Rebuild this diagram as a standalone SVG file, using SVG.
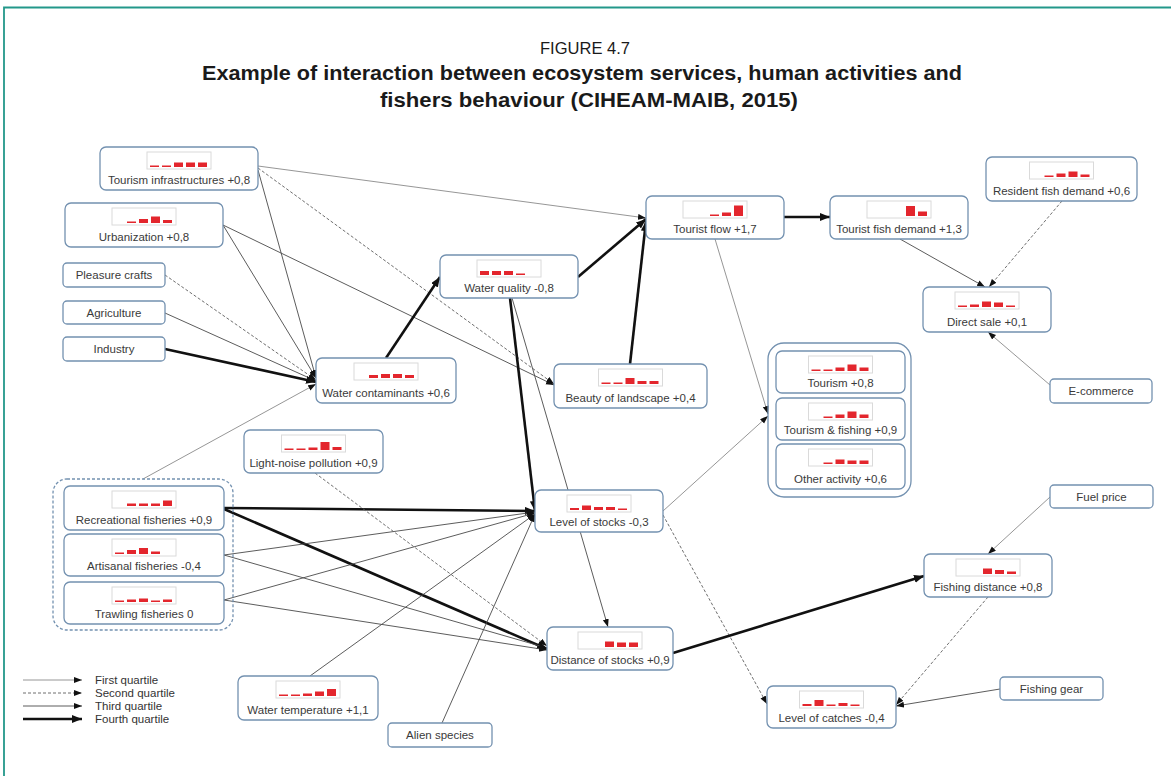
<svg xmlns="http://www.w3.org/2000/svg" width="1171" height="776" viewBox="0 0 1171 776">
  <style>
    .frame { fill: none; stroke: #23988a; stroke-width: 1.8; }
    .title { font-family: "Liberation Sans", Arial, sans-serif; fill: #1a1a1a; text-anchor: middle; }
    .node rect.box { fill: #ffffff; stroke: #7391b0; stroke-width: 1.3; }
    .grp { fill: none; stroke: #7391b0; stroke-width: 1.3; }
    .grp.dash { stroke-dasharray: 3 2; }
    .lbl { font-family: "Liberation Sans", Arial, sans-serif; font-size: 11.5px; fill: #3a3a3a; text-anchor: middle; }
    .chart { fill: none; stroke: #dadada; stroke-width: 1; }
    .bar { fill: #e3262d; }
    .q1 { fill: none; stroke: #8a8a8a; stroke-width: 0.9; marker-end: url(#arr); }
    .q2 { fill: none; stroke: #5e5e5e; stroke-width: 0.9; stroke-dasharray: 3 2; marker-end: url(#arr); }
    .q3 { fill: none; stroke: #4a4a4a; stroke-width: 0.9; marker-end: url(#arr); }
    .q4 { fill: none; stroke: #111111; stroke-width: 2.6; marker-end: url(#arrb); }
    .leg { font-family: "Liberation Sans", Arial, sans-serif; font-size: 11.5px; fill: #333333; }
  </style>
  <defs>
    <marker id="arr" markerUnits="userSpaceOnUse" markerWidth="9" markerHeight="7" refX="8" refY="3" orient="auto">
      <path d="M0,0 L8,3 L0,6 z" fill="#111"/>
    </marker>
    <marker id="arrb" markerUnits="userSpaceOnUse" markerWidth="12" markerHeight="10" refX="10" refY="4" orient="auto">
      <path d="M0,0 L10,4 L0,8 z" fill="#111"/>
    </marker>
  </defs>

  <rect width="1171" height="776" fill="#ffffff"/>
  <path class="frame" d="M4,776 V7.5 H1171"/>

  <!-- heading -->
  <text class="title" x="585" y="54" font-size="17" textLength="90" lengthAdjust="spacingAndGlyphs">FIGURE 4.7</text>
  <text class="title" x="582" y="80" font-size="20" font-weight="bold" textLength="760" lengthAdjust="spacingAndGlyphs">Example of interaction between ecosystem services, human activities and</text>
  <text class="title" x="589" y="107" font-size="20" font-weight="bold" textLength="418" lengthAdjust="spacingAndGlyphs">fishers behaviour (CIHEAM-MAIB, 2015)</text>

  <!-- connectors -->
  <g id="connectors">
    <line class="q1" x1="258" y1="166" x2="646" y2="218"/>
    <line class="q2" x1="258" y1="168" x2="554" y2="384"/>
    <line class="q3" x1="258" y1="170" x2="316" y2="378"/>
    <line class="q3" x1="223" y1="225" x2="316" y2="378"/>
    <line class="q3" x1="223" y1="225" x2="554" y2="385"/>
    <line class="q2" x1="165" y1="275" x2="316" y2="380"/>
    <line class="q3" x1="165" y1="313" x2="316" y2="381"/>
    <line class="q4" x1="165" y1="349" x2="316" y2="382"/>
    <line class="q1" x1="143" y1="479" x2="316" y2="384"/>
    <line class="q4" x1="386" y1="358" x2="440" y2="277"/>
    <line class="q4" x1="578" y1="277" x2="646" y2="219"/>
    <line class="q4" x1="630" y1="364" x2="646" y2="221"/>
    <line class="q4" x1="510" y1="298" x2="535" y2="511"/>
    <line class="q3" x1="512" y1="298" x2="608" y2="627"/>
    <line class="q1" x1="715" y1="239" x2="768" y2="414"/>
    <line class="q1" x1="663" y1="511" x2="768" y2="416"/>
    <line class="q2" x1="663" y1="515" x2="767" y2="704"/>
    <line class="q4" x1="784" y1="217" x2="830" y2="217"/>
    <line class="q3" x1="900" y1="239" x2="985" y2="287"/>
    <line class="q2" x1="1062" y1="201" x2="989" y2="287"/>
    <line class="q1" x1="1050" y1="385" x2="988" y2="332"/>
    <line class="q1" x1="1050" y1="497" x2="988" y2="554"/>
    <line class="q4" x1="673" y1="653" x2="924" y2="576"/>
    <line class="q2" x1="988" y1="597" x2="896" y2="705"/>
    <line class="q3" x1="1000" y1="689" x2="896" y2="706"/>
    <line class="q4" x1="224" y1="508" x2="535" y2="511"/>
    <line class="q4" x1="224" y1="509" x2="547" y2="649"/>
    <line class="q3" x1="224" y1="555" x2="535" y2="512"/>
    <line class="q3" x1="224" y1="555" x2="547" y2="648"/>
    <line class="q3" x1="224" y1="600" x2="535" y2="513"/>
    <line class="q3" x1="224" y1="600" x2="547" y2="650"/>
    <line class="q2" x1="315" y1="473" x2="547" y2="646"/>
    <line class="q3" x1="310" y1="676" x2="535" y2="514"/>
    <line class="q3" x1="442" y1="723" x2="535" y2="514"/>
  </g>

  <!-- group outlines -->
  <g id="group-fisheries"><rect class="grp dash" x="53" y="479" width="180" height="151" rx="14"/></g>
  <g id="group-activities"><rect class="grp" x="768" y="343" width="143" height="154" rx="16"/></g>

  <!-- nodes -->
  <g id="n-tourism-infra" class="node">
    <rect class="box" x="100" y="147" width="158" height="43" rx="6"/>
    <rect class="chart" x="147" y="152" width="64" height="17"/>
    <rect class="bar" x="150" y="165.5" width="9" height="1.5"/><rect class="bar" x="162" y="165.5" width="9" height="1.5"/><rect class="bar" x="174" y="162.5" width="9" height="4.5"/><rect class="bar" x="186" y="162.5" width="9" height="4.5"/><rect class="bar" x="198" y="162.5" width="9" height="4.5"/>
    <text class="lbl" x="179" y="184">Tourism infrastructures +0,8</text>
  </g>
  <g id="n-urbanization" class="node">
    <rect class="box" x="65" y="203" width="158" height="44" rx="6"/>
    <rect class="chart" x="112" y="208" width="64" height="17"/>
    <rect class="bar" x="127" y="221.5" width="9" height="1.5"/><rect class="bar" x="139" y="219" width="9" height="4"/><rect class="bar" x="151" y="216.5" width="9" height="6.5"/><rect class="bar" x="163" y="220" width="9" height="3"/>
    <text class="lbl" x="144" y="241">Urbanization +0,8</text>
  </g>
  <g id="n-pleasure-crafts" class="node">
    <rect class="box" x="63" y="263" width="102" height="24" rx="4"/>
    <text class="lbl" x="114" y="279">Pleasure crafts</text>
  </g>
  <g id="n-agriculture" class="node">
    <rect class="box" x="63" y="301" width="102" height="23" rx="4"/>
    <text class="lbl" x="114" y="317">Agriculture</text>
  </g>
  <g id="n-industry" class="node">
    <rect class="box" x="63" y="337" width="102" height="24" rx="4"/>
    <text class="lbl" x="114" y="353">Industry</text>
  </g>
  <g id="n-water-contaminants" class="node">
    <rect class="box" x="316" y="358" width="140" height="45" rx="6"/>
    <rect class="chart" x="354" y="363" width="64" height="17"/>
    <rect class="bar" x="369" y="375" width="9" height="3"/><rect class="bar" x="381" y="374" width="9" height="4"/><rect class="bar" x="393" y="374" width="9" height="4"/><rect class="bar" x="405" y="375" width="9" height="3"/>
    <text class="lbl" x="386" y="397">Water contaminants +0,6</text>
  </g>
  <g id="n-light-noise" class="node">
    <rect class="box" x="244" y="430" width="139" height="43" rx="6"/>
    <rect class="chart" x="281.5" y="435" width="64" height="17"/>
    <rect class="bar" x="284.5" y="448.5" width="9" height="1.5"/><rect class="bar" x="296.5" y="448.5" width="9" height="1.5"/><rect class="bar" x="308.5" y="447.5" width="9" height="2.5"/><rect class="bar" x="320.5" y="442" width="9" height="8"/><rect class="bar" x="332.5" y="447" width="9" height="3"/>
    <text class="lbl" x="313.5" y="467">Light-noise pollution +0,9</text>
  </g>
  <g id="n-water-quality" class="node">
    <rect class="box" x="440" y="255" width="138" height="43" rx="6"/>
    <rect class="chart" x="477" y="260" width="64" height="17"/>
    <rect class="bar" x="480" y="271" width="9" height="4"/><rect class="bar" x="492" y="271" width="9" height="4"/><rect class="bar" x="504" y="271" width="9" height="4"/><rect class="bar" x="516" y="273.5" width="9" height="1.5"/>
    <text class="lbl" x="509" y="292">Water quality -0,8</text>
  </g>
  <g id="n-beauty-landscape" class="node">
    <rect class="box" x="554" y="364" width="153" height="44" rx="6"/>
    <rect class="chart" x="598.5" y="369" width="64" height="17"/>
    <rect class="bar" x="601.5" y="382.5" width="9" height="1.5"/><rect class="bar" x="613.5" y="382.5" width="9" height="1.5"/><rect class="bar" x="625.5" y="378" width="9" height="6"/><rect class="bar" x="637.5" y="381" width="9" height="3"/><rect class="bar" x="649.5" y="381" width="9" height="3"/>
    <text class="lbl" x="630.5" y="402">Beauty of landscape +0,4</text>
  </g>
  <g id="n-tourist-flow" class="node">
    <rect class="box" x="646" y="196" width="138" height="43" rx="6"/>
    <rect class="chart" x="683" y="201" width="64" height="17"/>
    <rect class="bar" x="710" y="214.5" width="9" height="1.5"/><rect class="bar" x="722" y="212.5" width="9" height="3.5"/><rect class="bar" x="734" y="205.5" width="9" height="10.5"/>
    <text class="lbl" x="715" y="233">Tourist flow +1,7</text>
  </g>
  <g id="n-tourist-fish-demand" class="node">
    <rect class="box" x="830" y="196" width="138" height="43" rx="6"/>
    <rect class="chart" x="867" y="201" width="64" height="17"/>
    <rect class="bar" x="906" y="206" width="9" height="10"/><rect class="bar" x="918" y="211.5" width="9" height="4.5"/>
    <text class="lbl" x="899" y="233">Tourist fish demand +1,3</text>
  </g>
  <g id="n-resident-fish-demand" class="node">
    <rect class="box" x="986" y="157" width="151" height="44" rx="6"/>
    <rect class="chart" x="1029.5" y="162" width="64" height="17"/>
    <rect class="bar" x="1044.5" y="175.5" width="9" height="1.5"/><rect class="bar" x="1056.5" y="173.5" width="9" height="3.5"/><rect class="bar" x="1068.5" y="171.5" width="9" height="5.5"/><rect class="bar" x="1080.5" y="174.5" width="9" height="2.5"/>
    <text class="lbl" x="1061.5" y="195">Resident fish demand +0,6</text>
  </g>
  <g id="n-direct-sale" class="node">
    <rect class="box" x="923" y="287" width="128" height="45" rx="6"/>
    <rect class="chart" x="955" y="292" width="64" height="17"/>
    <rect class="bar" x="958" y="305.5" width="9" height="1.5"/><rect class="bar" x="970" y="304.5" width="9" height="2.5"/><rect class="bar" x="982" y="301.5" width="9" height="5.5"/><rect class="bar" x="994" y="302.5" width="9" height="4.5"/><rect class="bar" x="1006" y="305.5" width="9" height="1.5"/>
    <text class="lbl" x="987" y="326">Direct sale +0,1</text>
  </g>
  <g id="n-ecommerce" class="node">
    <rect class="box" x="1050" y="379" width="102" height="24" rx="4"/>
    <text class="lbl" x="1101" y="395">E-commerce</text>
  </g>
  <g id="n-tourism" class="node">
    <rect class="box" x="776" y="351" width="129" height="42" rx="6"/>
    <rect class="chart" x="808.5" y="356" width="64" height="17"/>
    <rect class="bar" x="811.5" y="369.5" width="9" height="1.5"/><rect class="bar" x="823.5" y="369.5" width="9" height="1.5"/><rect class="bar" x="835.5" y="367.5" width="9" height="3.5"/><rect class="bar" x="847.5" y="364.5" width="9" height="6.5"/><rect class="bar" x="859.5" y="367.5" width="9" height="3.5"/>
    <text class="lbl" x="840.5" y="387">Tourism +0,8</text>
  </g>
  <g id="n-tourism-fishing" class="node">
    <rect class="box" x="776" y="398" width="129" height="42" rx="6"/>
    <rect class="chart" x="808.5" y="403" width="64" height="17"/>
    <rect class="bar" x="823.5" y="416.5" width="9" height="1.5"/><rect class="bar" x="835.5" y="414.5" width="9" height="3.5"/><rect class="bar" x="847.5" y="411.5" width="9" height="6.5"/><rect class="bar" x="859.5" y="414.5" width="9" height="3.5"/>
    <text class="lbl" x="840.5" y="434">Tourism &amp; fishing +0,9</text>
  </g>
  <g id="n-other-activity" class="node">
    <rect class="box" x="776" y="444" width="129" height="45" rx="6"/>
    <rect class="chart" x="808.5" y="449" width="64" height="17"/>
    <rect class="bar" x="823.5" y="462.5" width="9" height="1.5"/><rect class="bar" x="835.5" y="459.5" width="9" height="4.5"/><rect class="bar" x="847.5" y="460.5" width="9" height="3.5"/><rect class="bar" x="859.5" y="460.5" width="9" height="3.5"/>
    <text class="lbl" x="840.5" y="483">Other activity +0,6</text>
  </g>
  <g id="n-fuel-price" class="node">
    <rect class="box" x="1050" y="485" width="103" height="23" rx="4"/>
    <text class="lbl" x="1101.5" y="501">Fuel price</text>
  </g>
  <g id="n-fishing-distance" class="node">
    <rect class="box" x="924" y="554" width="128" height="43" rx="6"/>
    <rect class="chart" x="956" y="559" width="64" height="17"/>
    <rect class="bar" x="983" y="568.5" width="9" height="5.5"/><rect class="bar" x="995" y="570" width="9" height="4"/><rect class="bar" x="1007" y="571.5" width="9" height="2.5"/>
    <text class="lbl" x="988" y="591">Fishing distance +0,8</text>
  </g>
  <g id="n-fishing-gear" class="node">
    <rect class="box" x="1000" y="677" width="103" height="23" rx="4"/>
    <text class="lbl" x="1051.5" y="693">Fishing gear</text>
  </g>
  <g id="n-level-catches" class="node">
    <rect class="box" x="767" y="686" width="129" height="42" rx="6"/>
    <rect class="chart" x="799.5" y="691" width="64" height="17"/>
    <rect class="bar" x="802.5" y="704" width="9" height="2"/><rect class="bar" x="814.5" y="700" width="9" height="6"/><rect class="bar" x="826.5" y="704.5" width="9" height="1.5"/><rect class="bar" x="838.5" y="703" width="9" height="3"/><rect class="bar" x="850.5" y="704.5" width="9" height="1.5"/>
    <text class="lbl" x="831.5" y="722">Level of catches -0,4</text>
  </g>
  <g id="n-level-stocks" class="node">
    <rect class="box" x="535" y="490" width="128" height="42" rx="6"/>
    <rect class="chart" x="567" y="495" width="64" height="17"/>
    <rect class="bar" x="570" y="508" width="9" height="2"/><rect class="bar" x="582" y="505.5" width="9" height="4.5"/><rect class="bar" x="594" y="507" width="9" height="3"/><rect class="bar" x="606" y="507" width="9" height="3"/><rect class="bar" x="618" y="508.5" width="9" height="1.5"/>
    <text class="lbl" x="599" y="526">Level of stocks -0,3</text>
  </g>
  <g id="n-distance-stocks" class="node">
    <rect class="box" x="547" y="627" width="126" height="43" rx="6"/>
    <rect class="chart" x="578" y="632" width="64" height="17"/>
    <rect class="bar" x="605" y="641.5" width="9" height="5.5"/><rect class="bar" x="617" y="642.5" width="9" height="4.5"/><rect class="bar" x="629" y="642.5" width="9" height="4.5"/>
    <text class="lbl" x="610" y="664">Distance of stocks +0,9</text>
  </g>
  <g id="n-recreational" class="node">
    <rect class="box" x="64" y="486" width="160" height="44" rx="6"/>
    <rect class="chart" x="112" y="491" width="64" height="17"/>
    <rect class="bar" x="127" y="503.5" width="9" height="2.5"/><rect class="bar" x="139" y="503.5" width="9" height="2.5"/><rect class="bar" x="151" y="503.5" width="9" height="2.5"/><rect class="bar" x="163" y="500.5" width="9" height="5.5"/>
    <text class="lbl" x="144" y="524">Recreational fisheries +0,9</text>
  </g>
  <g id="n-artisanal" class="node">
    <rect class="box" x="64" y="534" width="160" height="42" rx="6"/>
    <rect class="chart" x="112" y="539" width="64" height="17"/>
    <rect class="bar" x="115" y="552.5" width="9" height="1.5"/><rect class="bar" x="127" y="550" width="9" height="4"/><rect class="bar" x="139" y="548" width="9" height="6"/><rect class="bar" x="151" y="551.5" width="9" height="2.5"/>
    <text class="lbl" x="144" y="570">Artisanal fisheries -0,4</text>
  </g>
  <g id="n-trawling" class="node">
    <rect class="box" x="64" y="582" width="160" height="42" rx="6"/>
    <rect class="chart" x="112" y="587" width="64" height="17"/>
    <rect class="bar" x="115" y="600.5" width="9" height="1.5"/><rect class="bar" x="127" y="599.5" width="9" height="2.5"/><rect class="bar" x="139" y="598.5" width="9" height="3.5"/><rect class="bar" x="151" y="600.5" width="9" height="1.5"/><rect class="bar" x="163" y="599.5" width="9" height="2.5"/>
    <text class="lbl" x="144" y="618">Trawling fisheries 0</text>
  </g>
  <g id="n-water-temperature" class="node">
    <rect class="box" x="238" y="676" width="140" height="44" rx="6"/>
    <rect class="chart" x="276" y="681" width="64" height="17"/>
    <rect class="bar" x="279" y="694.5" width="9" height="1.5"/><rect class="bar" x="291" y="694.5" width="9" height="1.5"/><rect class="bar" x="303" y="693.5" width="9" height="2.5"/><rect class="bar" x="315" y="691.5" width="9" height="4.5"/><rect class="bar" x="327" y="689" width="9" height="7"/>
    <text class="lbl" x="308" y="714">Water temperature +1,1</text>
  </g>
  <g id="n-alien-species" class="node">
    <rect class="box" x="388" y="723" width="104" height="24" rx="4"/>
    <text class="lbl" x="440" y="739">Alien species</text>
  </g>

  <!-- legend -->
  <g id="legend">
    <line class="q1" x1="23" y1="680" x2="82" y2="680"/>
    <line class="q2" x1="23" y1="693" x2="82" y2="693"/>
    <line class="q3" x1="23" y1="706" x2="82" y2="706"/>
    <line class="q4" x1="23" y1="719" x2="82" y2="719"/>
    <text class="leg" x="95" y="684">First quartile</text>
    <text class="leg" x="95" y="697">Second quartile</text>
    <text class="leg" x="95" y="710">Third quartile</text>
    <text class="leg" x="95" y="723">Fourth quartile</text>
  </g>
</svg>
